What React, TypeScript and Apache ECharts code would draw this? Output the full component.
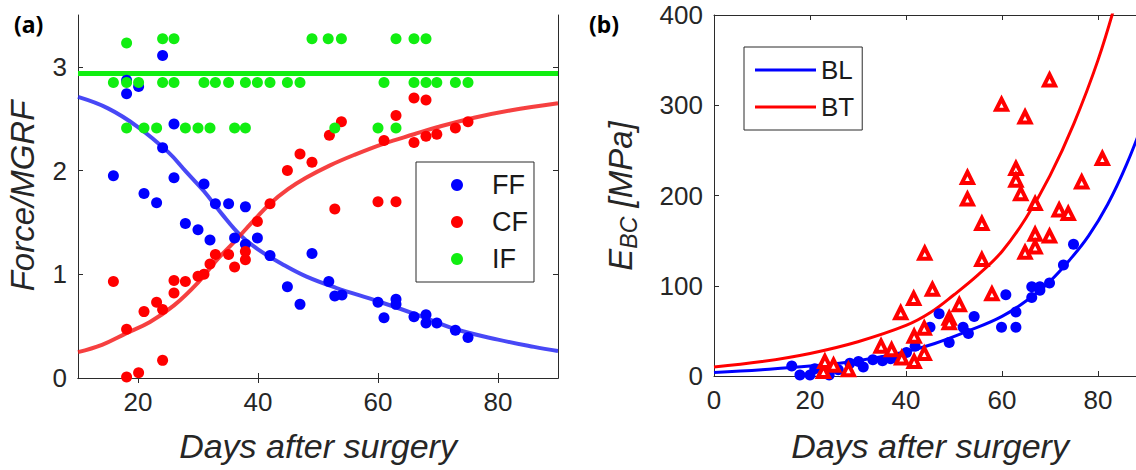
import React, { useEffect, useRef } from "react";
import * as echarts from "echarts";

// ---------- Panel (a): Force / MGRF vs days ----------
const ffPoints: number[][] = [
  [15.9, 1.95], [18.1, 2.87], [18.1, 2.74], [20.1, 2.81], [24.1, 3.11], [24.1, 2.22],
  [26, 2.45], [26, 1.93], [21, 1.78], [23.1, 1.69], [31, 1.87], [32.9, 1.68],
  [35.1, 1.68], [37.9, 1.65], [27.9, 1.49], [30, 1.43], [32, 1.33], [36.1, 1.35],
  [37.9, 1.29], [39.9, 1.35], [42, 1.18], [49, 1.2], [44.9, 0.88], [47, 0.71],
  [51.8, 0.93], [52.8, 0.79], [54, 0.8], [60, 0.73], [61, 0.58], [63, 0.76],
  [63, 0.71], [66, 0.59], [68, 0.61], [68, 0.53], [69.8, 0.53], [72.9, 0.46], [75, 0.39],
];
const cfPoints: number[][] = [
  [15.9, 0.93], [18.1, 0.47], [18.1, 0.01], [20.1, 0.05], [24.1, 0.17], [21, 0.64],
  [23.1, 0.73], [24.1, 0.66], [26, 0.94], [26, 0.82], [27.9, 0.93], [30, 0.98],
  [31, 1.0], [32, 1.1], [32.9, 1.19], [35.1, 1.19], [36.1, 1.07], [37.9, 1.22],
  [37.9, 1.14], [39.9, 1.51], [42, 1.68], [44.9, 2.0], [47, 2.16], [49, 2.08],
  [51.9, 2.34], [52.8, 1.63], [53.9, 2.47], [60, 1.7], [61, 2.29], [63, 1.7],
  [63, 2.53], [66, 2.7], [66, 2.27], [68, 2.68], [68, 2.33], [69.8, 2.35], [72.9, 2.41], [75, 2.47],
];
const ifPoints: number[][] = [
  [18.1, 3.23], [24.1, 3.27], [26, 3.27], [49, 3.27], [51.7, 3.27], [53.9, 3.27],
  [63, 3.27], [66, 3.27], [68, 3.27],
  [15.9, 2.85], [18.1, 2.85], [20.1, 2.85], [24.1, 2.85], [26, 2.85], [31, 2.85],
  [32.9, 2.85], [35.1, 2.85], [37.9, 2.85], [39.9, 2.85], [42, 2.85], [44.9, 2.85],
  [47, 2.85], [61, 2.85], [66, 2.85], [68, 2.85], [69.8, 2.85], [72.9, 2.85], [75, 2.85],
  [18.1, 2.41], [21, 2.41], [23.1, 2.41], [27.9, 2.41], [30, 2.41], [32, 2.41],
  [36.1, 2.41], [37.9, 2.41], [52.8, 2.41], [60, 2.41], [63, 2.41],
];
const ifMeanLine: number[][] = [[10, 2.935], [90, 2.935]];
const ffFitCurve: number[][] = [
  [10, 2.71], [15, 2.6], [20, 2.42], [25, 2.18], [28, 1.99], [31, 1.8], [34, 1.58],
  [37, 1.38], [40, 1.24], [44, 1.1], [48, 0.98], [53, 0.87], [60, 0.74], [67, 0.6],
  [73, 0.47], [80, 0.37], [86, 0.3], [90, 0.26],
];
const cfFitCurve: number[][] = [
  [10, 0.25], [14, 0.32], [18, 0.43], [22, 0.54], [26, 0.7], [30, 0.92], [33, 1.13],
  [36, 1.31], [39, 1.5], [42, 1.68], [45, 1.82], [48, 1.93], [52, 2.05], [56, 2.15],
  [61, 2.26], [66, 2.35], [70, 2.42], [76, 2.51], [82, 2.58], [90, 2.65],
];
const aXTicks = [20, 40, 60, 80];
const aYTicks = [0, 1, 2, 3];

// ---------- Panel (b): E_BC vs days ----------
const blPoints: number[][] = [
  [16.2, 11], [17.9, 1], [20, 1], [21, 8], [23.3, 10], [24, 1], [25.9, 7], [28.3, 14],
  [30.1, 16], [31.1, 10], [33.1, 18], [35.1, 17], [36.8, 19], [38.1, 20], [40.1, 26],
  [41.9, 33], [45, 54], [46.9, 69], [49, 37], [51.9, 54], [53, 47], [54.2, 66],
  [59.9, 54], [60.8, 90], [62.9, 71], [62.9, 54], [66.2, 87], [66.2, 99], [67.9, 99],
  [67.9, 95], [69.9, 103], [72.8, 123], [74.9, 146],
];
const btPoints: number[][] = [
  [22.8, 5], [23.1, 16], [24.9, 12], [28, 7], [34.8, 33], [37, 29], [38.9, 70],
  [39.1, 20], [41.7, 16], [41.7, 44], [41.6, 86], [43.8, 25], [43.8, 53], [43.9, 136],
  [45.5, 96], [49, 64], [49, 59], [51.1, 79], [52.8, 196], [52.8, 220], [55.8, 169],
  [55.8, 129], [57.9, 91], [59.9, 301], [62.9, 230], [62.9, 217], [63.9, 202],
  [64.8, 287], [64.8, 137], [66.9, 191], [66.9, 157], [66.9, 143], [69.9, 328],
  [69.9, 155], [71.9, 184], [73.8, 180], [76.6, 215], [80.9, 241],
];
const blFitCurve: number[][] = [
  [0, 4], [10, 7], [20, 11], [30, 17], [40, 27], [46, 36], [53, 50], [60, 66],
  [66, 87], [70, 105], [74, 128], [78, 155], [82, 190], [86, 235], [90, 290],
];
const btFitCurve: number[][] = [
  [0, 10], [10, 16], [20, 25], [30, 38], [40, 56], [45, 70], [50, 90], [55, 112],
  [60, 138], [65, 175], [70, 222], [75, 280], [80, 350], [84, 420],
];
const bXTicks = [0, 20, 40, 60, 80];

const AX = "#2b2b2b";
const TXT = "#262626";
const FONT = "'Liberation Sans', Arial, sans-serif";

export default function App() {
  const ref = useRef<HTMLDivElement>(null);
  useEffect(() => {
    document.body.style.margin = "0";
    const chart = echarts.init(ref.current!, null, { renderer: "svg" });
    const axisLine = { show: true, lineStyle: { color: AX, width: 1 } };
    const label = { fontSize: 26, color: TXT, fontFamily: FONT, margin: 11 };
    const option: any = {
      animation: false,
      backgroundColor: "#fff",
      grid: [
        { left: 78, top: 15, width: 480, height: 363, outerBoundsMode: "none" },
        { left: 714, top: 15, width: 432, height: 361, outerBoundsMode: "none" },
      ],
      xAxis: [
        {
          gridIndex: 0, type: "value", min: 10, max: 90, position: "bottom",
          axisLine, splitLine: { show: false },
          axisTick: { inside: true, length: 5, customValues: aXTicks, lineStyle: { color: AX } },
          axisLabel: { ...label, customValues: aXTicks },
        },
        {
          gridIndex: 0, type: "value", min: 10, max: 90, position: "top",
          axisLine, splitLine: { show: false },
          axisTick: { inside: true, length: 5, customValues: aXTicks, lineStyle: { color: AX } },
          axisLabel: { show: false },
        },
        {
          gridIndex: 1, type: "value", min: 0, max: 90, position: "bottom",
          axisLine, splitLine: { show: false },
          axisTick: { inside: true, length: 5, customValues: bXTicks, lineStyle: { color: AX } },
          axisLabel: { ...label, customValues: bXTicks },
        },
        {
          gridIndex: 1, type: "value", min: 0, max: 90, position: "top",
          axisLine, splitLine: { show: false },
          axisTick: { inside: true, length: 5, customValues: bXTicks, lineStyle: { color: AX } },
          axisLabel: { show: false },
        },
      ],
      yAxis: [
        {
          gridIndex: 0, type: "value", min: 0, max: 3.5, position: "left",
          axisLine, splitLine: { show: false },
          axisTick: { inside: true, length: 5, customValues: aYTicks, lineStyle: { color: AX } },
          axisLabel: { ...label, customValues: aYTicks },
        },
        {
          gridIndex: 0, type: "value", min: 0, max: 3.5, position: "right",
          axisLine, splitLine: { show: false },
          axisTick: { inside: true, length: 5, customValues: aYTicks, lineStyle: { color: AX } },
          axisLabel: { show: false },
        },
        {
          gridIndex: 1, type: "value", min: 0, max: 400, interval: 100, position: "left",
          axisLine, splitLine: { show: false },
          axisTick: { inside: true, length: 5, lineStyle: { color: AX } },
          axisLabel: { ...label },
        },
      ],
      legend: [
        {
          data: ["FF", "CF", "IF"], orient: "vertical", left: 416, top: 162,
          padding: [8, 6, 8, 35], itemGap: 7, itemWidth: 12, itemHeight: 12,
          borderColor: AX, borderWidth: 1, backgroundColor: "#fff",
          textStyle: { fontSize: 27, fontFamily: FONT, color: "#1a1a1a", lineHeight: 30, padding: [0, 0, 0, 24] },
        },
        {
          data: [{ name: "BL", icon: "rect" }, { name: "BT", icon: "rect" }],
          orient: "vertical", left: 744, top: 47,
          padding: [8, 8, 8, 11], itemGap: 7, itemWidth: 61, itemHeight: 3,
          borderColor: AX, borderWidth: 1, backgroundColor: "#fff",
          textStyle: { fontSize: 26, fontFamily: FONT, color: "#1a1a1a", lineHeight: 30, padding: [0, 0, 0, 0] },
        },
      ],
      series: [
        {
          name: "IF mean", type: "line", xAxisIndex: 0, yAxisIndex: 0, data: ifMeanLine,
          symbol: "none", lineStyle: { color: "#11ee11", width: 5 }, z: 2,
        },
        {
          name: "FF fit", type: "line", xAxisIndex: 0, yAxisIndex: 0, data: ffFitCurve,
          symbol: "none", smooth: 0.4, lineStyle: { color: "rgba(40,40,245,0.85)", width: 4 }, z: 2,
        },
        {
          name: "CF fit", type: "line", xAxisIndex: 0, yAxisIndex: 0, data: cfFitCurve,
          symbol: "none", smooth: 0.4, lineStyle: { color: "rgba(245,30,30,0.85)", width: 4 }, z: 2,
        },
        {
          name: "FF", type: "scatter", xAxisIndex: 0, yAxisIndex: 0, data: ffPoints,
          symbol: "circle", symbolSize: 11, itemStyle: { color: "#0000ff", opacity: 1 }, z: 3,
        },
        {
          name: "CF", type: "scatter", xAxisIndex: 0, yAxisIndex: 0, data: cfPoints,
          symbol: "circle", symbolSize: 11, itemStyle: { color: "#ff0000", opacity: 1 }, z: 3,
        },
        {
          name: "IF", type: "scatter", xAxisIndex: 0, yAxisIndex: 0, data: ifPoints,
          symbol: "circle", symbolSize: 11, itemStyle: { color: "#11ee11", opacity: 1 }, z: 3,
        },
        {
          name: "BL", type: "line", xAxisIndex: 2, yAxisIndex: 2, data: blFitCurve,
          symbol: "none", smooth: 0.4, color: "#0000ff", lineStyle: { color: "#0000ff", width: 3 }, z: 2,
        },
        {
          name: "BT", type: "line", xAxisIndex: 2, yAxisIndex: 2, data: btFitCurve,
          symbol: "none", smooth: 0.4, color: "#ff0000", lineStyle: { color: "#ff0000", width: 3 }, z: 2,
        },
        {
          name: "BL data", type: "scatter", xAxisIndex: 2, yAxisIndex: 2, data: blPoints,
          symbol: "circle", symbolSize: 11, itemStyle: { color: "#0000ff", opacity: 1 }, z: 3,
        },
        {
          name: "BT data", type: "scatter", xAxisIndex: 2, yAxisIndex: 2, data: btPoints,
          symbol: "triangle", symbolSize: 11,
          itemStyle: { color: "#ffffff", borderColor: "#ff0000", borderWidth: 4, opacity: 1 }, z: 3,
        },
      ],
      graphic: [
        {
          type: "text", left: 14, top: 12,
          style: { text: "(a)", font: "bold 23px 'Noto Sans', 'Open Sans', sans-serif", fill: "#000" },
        },
        {
          type: "text", left: 589, top: 12,
          style: { text: "(b)", font: "bold 23px 'Noto Sans', 'Open Sans', sans-serif", fill: "#000" },
        },
        {
          type: "text", x: 22, y: 196, rotation: Math.PI / 2,
          style: {
            text: "Force/MGRF", font: `italic 33px ${FONT}`, fill: TXT,
            align: "center", verticalAlign: "middle",
          },
        },
        {
          type: "text", x: 318, y: 446,
          style: {
            text: "Days after surgery", font: `italic 34px ${FONT}`, fill: TXT,
            align: "center", verticalAlign: "middle",
          },
        },
        {
          type: "text", x: 930, y: 446,
          style: {
            text: "Days after surgery", font: `italic 34px ${FONT}`, fill: TXT,
            align: "center", verticalAlign: "middle",
          },
        },
        {
          type: "text", x: 620, y: 196, rotation: Math.PI / 2,
          style: {
            text: "{e|E}{s|BC}{e| [MPa]}", fill: TXT,
            align: "center", verticalAlign: "middle",
            rich: {
              e: { fontSize: 33, fontStyle: "italic", fontFamily: FONT, fill: TXT, color: TXT },
              s: { fontSize: 23, fontStyle: "italic", fontFamily: FONT, fill: TXT, color: TXT, padding: [18, 0, 0, 0] },
            },
          },
        },
      ],
    };
    chart.setOption(option);
    return () => chart.dispose();
  }, []);
  return <div ref={ref} style={{ width: 1136, height: 470 }} />;
}
